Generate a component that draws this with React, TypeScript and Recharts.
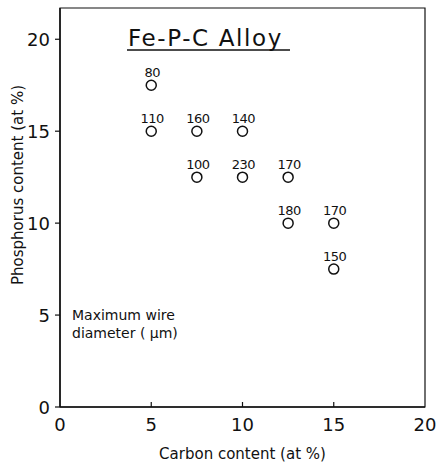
import React from "react";
import {
  ScatterChart,
  Scatter,
  XAxis,
  YAxis,
  ReferenceArea,
} from "recharts";

// carbon (at %), phosphorus (at %), max wire diameter (µm)
const carbon = [5, 5, 7.5, 10, 7.5, 10, 12.5, 12.5, 15, 15];
const phosphorus = [17.5, 15, 15, 15, 12.5, 12.5, 12.5, 10, 10, 7.5];
const diameters = [80, 110, 160, 140, 100, 230, 170, 180, 170, 150];

const xTicks = [0, 5, 10, 15, 20];
const yTicks = [0, 5, 10, 15, 20];

const FONT = "'DejaVu Sans', sans-serif";
const INK = "#111";

const points = carbon.map((c, i) => ({ x: c, y: phosphorus[i], d: diameters[i] }));

const Marker = (props: any) => {
  const { cx, cy, payload } = props;
  return (
    <g>
      <circle cx={cx} cy={cy} r={5} fill="none" stroke={INK} strokeWidth={1.5} />
      <text
        x={cx + 1}
        y={cy - 8}
        textAnchor="middle"
        fontSize={13}
        fontFamily={FONT}
        fill={INK}
        letterSpacing={-0.5}
      >
        {payload.d}
      </text>
    </g>
  );
};

// bottom ticks point into the plot
const XTick = (props: any) => {
  const { x, y, payload } = props;
  const axisY = y - 10;
  return (
    <g>
      {payload.value > 0 && payload.value < 20 && (
        <line x1={x} x2={x} y1={axisY} y2={axisY - 5} stroke={INK} strokeWidth={1.2} />
      )}
      <text x={x} y={axisY + 24} textAnchor="middle" fontSize={18} fontFamily={FONT} fill={INK}>
        {payload.value}
      </text>
    </g>
  );
};

const YTick = (props: any) => {
  const { x, y, payload } = props;
  return (
    <text x={x} y={y + 7} textAnchor="end" fontSize={18} fontFamily={FONT} fill={INK}>
      {payload.value}
    </text>
  );
};

const NoTick = () => <g />;

export default function App() {
  return (
    <div style={{ position: "absolute", left: 0, top: 0, background: "#fff" }}>
      <ScatterChart width={440} height={465} margin={{ top: 8, right: 15, bottom: 0, left: 0 }}>
        <XAxis
          type="number"
          dataKey="x"
          domain={[0, 20]}
          ticks={xTicks}
          height={58}
          tick={<XTick />}
          tickLine={false}
          tickSize={6}
          tickMargin={4}
          axisLine={{ stroke: INK, strokeWidth: 1.5 }}
          label={{
            value: "Carbon content (at %)",
            position: "insideBottom",
            offset: 6,
            fontSize: 15,
            fontFamily: FONT,
            fill: INK,
          }}
        />
        <YAxis
          type="number"
          dataKey="y"
          domain={[0, 21.7]}
          ticks={yTicks}
          width={60}
          tick={<YTick />}
          tickSize={5}
          tickMargin={5}
          tickLine={{ stroke: INK, strokeWidth: 1.2 }}
          axisLine={{ stroke: INK, strokeWidth: 1.5 }}
        />
        <YAxis
          yAxisId="right"
          orientation="right"
          type="number"
          domain={[0, 21.7]}
          ticks={yTicks.slice(1)}
          width={0}
          mirror
          tick={<NoTick />}
          tickSize={5}
          tickLine={{ stroke: INK, strokeWidth: 1.2 }}
          axisLine={{ stroke: INK, strokeWidth: 1.2 }}
        />
        <ReferenceArea
          x1={0}
          x2={20}
          y1={0}
          y2={21.7}
          fill="none"
          stroke={INK}
          strokeWidth={1.2}
          ifOverflow="extendDomain"
        />
        <Scatter data={points} shape={<Marker />} isAnimationActive={false} />
        <text
          x={23}
          y={185}
          transform="rotate(-90 23 185)"
          textAnchor="middle"
          fontSize={15}
          fontFamily={FONT}
          fill={INK}
        >
          Phosphorus content (at %)
        </text>
        <text x={128} y={46} fontSize={23} fontFamily={FONT} fill={INK} letterSpacing={1.6}>
          Fe-P-C Alloy
        </text>
        <line x1={127} x2={290} y1={50} y2={50} stroke={INK} strokeWidth={1.6} />
        <text x={72} y={320} fontSize={14} fontFamily={FONT} fill={INK}>
          Maximum wire
        </text>
        <text x={72} y={338} fontSize={14} fontFamily={FONT} fill={INK}>
          diameter ( µm)
        </text>
      </ScatterChart>
    </div>
  );
}
